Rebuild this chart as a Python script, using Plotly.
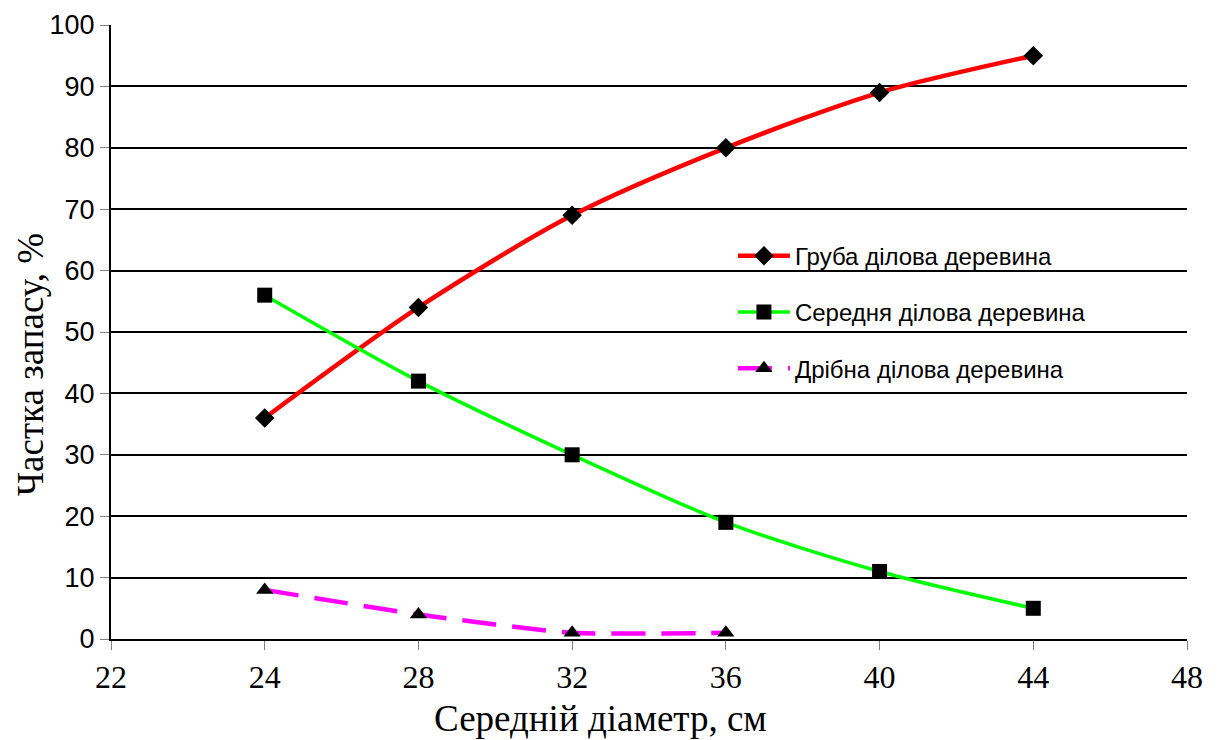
import plotly.graph_objects as go

categories = ["22", "24", "28", "32", "36", "40", "44", "48"]
x_main = ["24", "28", "32", "36", "40", "44"]
x_small = ["24", "28", "32", "36"]
coarse = [36, 54, 69, 80, 89, 95]
medium = [56, 42, 30, 19, 11, 5]
small = [8, 4, 1, 1]
names = ["Груба ділова деревина", "Середня ділова деревина", "Дрібна ділова деревина"]
x_title = "Середній діаметр, см"
y_title = "Частка запасу, %"

fig = go.Figure()
fig.add_trace(go.Scatter(x=x_main, y=coarse, name=names[0], mode="lines+markers",
                         line=dict(color="#ff0000", width=4.5, shape="spline", smoothing=0.8),
                         marker=dict(symbol="diamond", size=15, color="black"),
                         legendgroup="a"))
fig.add_trace(go.Scatter(x=x_main, y=medium, name=names[1], mode="lines+markers",
                         line=dict(color="#00ff00", width=3.5, shape="spline", smoothing=0.8),
                         marker=dict(symbol="square", size=15, color="black"),
                         legendgroup="b"))
fig.add_trace(go.Scatter(x=x_small, y=small, name=names[2], mode="lines+markers",
                         line=dict(color="#ff00ff", width=4.5, shape="spline", smoothing=0.5,
                                   dash="34px,16px"),
                         marker=dict(symbol="triangle-up", size=15, color="black"),
                         legendgroup="c"))

serif = "Liberation Serif, Times New Roman"
fig.update_layout(
    width=1221, height=740,
    margin=dict(l=111, r=34, t=25, b=101),
    plot_bgcolor="white", paper_bgcolor="white",
    showlegend=True,
    legend=dict(x=0.578, y=0.66, xanchor="left", yanchor="top",
                font=dict(family="Liberation Sans, Arial", size=24, color="black"),
                tracegroupgap=22, bgcolor="rgba(0,0,0,0)", itemwidth=52),
    xaxis=dict(type="category", categoryorder="array", categoryarray=categories,
               range=[0, 7], showgrid=False, automargin=False,
               showline=True, linecolor="black", linewidth=2,
               ticks="outside", ticklen=9, tickcolor="#808080", tickwidth=1,
               tickfont=dict(family=serif, size=32, color="black")),
    yaxis=dict(range=[0, 100], dtick=10, tick0=0, automargin=False,
               showgrid=True, gridcolor="black", gridwidth=2,
               showline=True, linecolor="black", linewidth=2, zeroline=False,
               ticks="outside", ticklen=9, tickcolor="#808080", tickwidth=1,
               tickfont=dict(family="Liberation Sans, Arial", size=27, color="black")),
    annotations=[
        dict(text=x_title, xref="paper", yref="paper", x=(600 - 111) / 1076, y=-(718 - 639) / 614,
             xanchor="center", yanchor="middle", showarrow=False,
             font=dict(family=serif, size=37, color="black")),
        dict(text=y_title, xref="paper", yref="paper", x=(30 - 111) / 1076, y=(639 - 365) / 614,
             xanchor="center", yanchor="middle", showarrow=False, textangle=-90,
             font=dict(family=serif, size=37, color="black")),
    ],
)

fig.write_html("out.html")
